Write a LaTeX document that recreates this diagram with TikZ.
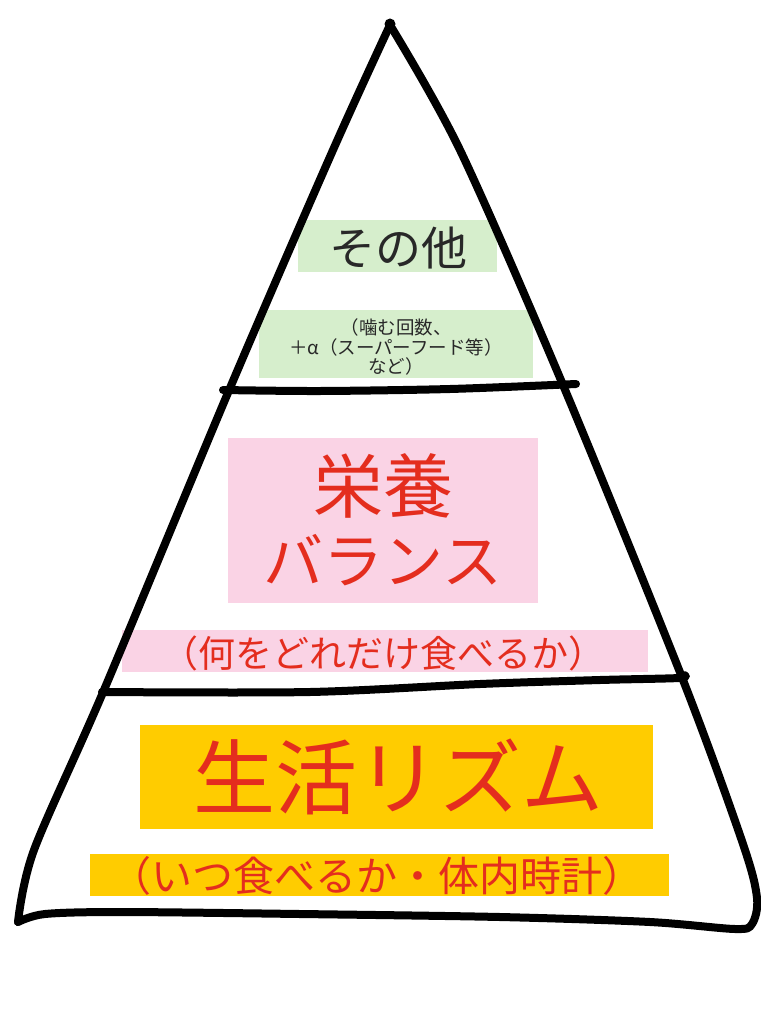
\documentclass[tikz,border=0pt]{standalone}
\usepackage{fontspec}
\newfontfamily\jp{Noto Sans CJK JP}
\definecolor{boxgreen}{RGB}{214,238,204}
\definecolor{boxpink}{RGB}{250,211,229}
\definecolor{boxorange}{RGB}{255,204,0}
\definecolor{txtred}{RGB}{228,45,30}
\definecolor{txtdark}{RGB}{40,40,40}
\tikzset{
  panel/.style={fill=#1, draw=none, inner sep=0pt, outer sep=0pt},
  stroke/.style={line width=8pt, line cap=round, line join=round, black},
  label/.style={inner sep=0pt, font=\jp, align=center}
}
\begin{document}
\begin{tikzpicture}[x=1pt,y=-1pt]
\useasboundingbox (0,0) rectangle (760,1024);
% background panels
\node[panel=boxgreen, minimum width=199pt, minimum height=52pt] (g1) at (397.5,246) {};
\node[panel=boxgreen, minimum width=274pt, minimum height=68pt] (g2) at (396,344) {};
\node[panel=boxpink, minimum width=310pt, minimum height=165pt] (p1) at (383,520.5) {};
\node[panel=boxpink, minimum width=526pt, minimum height=42pt] (p2) at (385,651) {};
\node[panel=boxorange, minimum width=513pt, minimum height=104pt] (o1) at (396.5,777) {};
\node[panel=boxorange, minimum width=579pt, minimum height=42pt] (o2) at (379.5,875) {};
% texts
\node[label, text=txtdark, font=\jp\fontsize{46}{50}\selectfont] (t1) at (398,248) {その他};
\node[label, text=txtdark, font=\jp\fontsize{18.5}{19.5}\selectfont] (t2) at (396,347) {（噛む回数、\\＋α（スーパーフード等）\\など）};
\node[label, text=txtred, font=\jp\fontsize{70}{70}\selectfont] (t3) at (383,486) {栄養};
\node[label, text=txtred, font=\jp\fontsize{60}{60}\selectfont] (t4) at (383,560) {バランス};
\node[label, text=txtred, font=\jp\fontsize{37}{37}\selectfont] (t5) at (383,653) {（何をどれだけ食べるか）};
\node[label, text=txtred, font=\jp\fontsize{82}{82}\selectfont] (t6) at (398,777) {生活リズム};
\node[label, text=txtred, font=\jp\fontsize{41}{41}\selectfont] (t7) at (377,876) {（いつ食べるか・体内時計）};
% pyramid outline
\draw[stroke] plot[smooth, tension=0.5] coordinates {(390,25) (333,150) (230,388) (104,690) (34,850) (18,922)};
\draw[stroke] plot[smooth, tension=0.5] coordinates {(390,25) (460,150) (563,385) (683,680) (743,844) (757,898) (752,924) (735,929) (650,922) (500,917) (300,914) (120,912) (45,914) (18,922)};
\draw[stroke] plot[smooth, tension=0.5] coordinates {(223,390) (320,391) (450,389) (576,384)};
\draw[stroke] plot[smooth, tension=0.5] coordinates {(102,692) (310,692) (480,684) (600,680) (679,678) (684,675)};
\fill[black] (390,24) circle (5.5pt);
\end{tikzpicture}
\end{document}
